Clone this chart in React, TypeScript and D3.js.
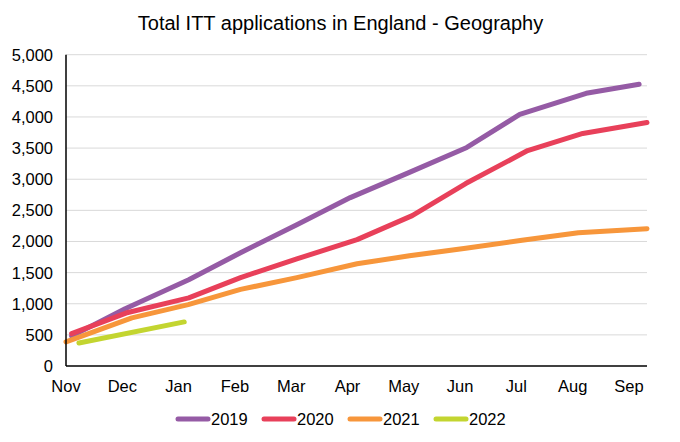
import React from "react";
import * as d3 from "d3";

const months = ["Nov", "Dec", "Jan", "Feb", "Mar", "Apr", "May", "Jun", "Jul", "Aug", "Sep"];
const yTicks = [0, 500, 1000, 1500, 2000, 2500, 3000, 3500, 4000, 4500, 5000];

// [month position (0 = Nov), applications]
const s2019: [number, number][] = [
  [0.1, 480], [1.05, 920], [2.18, 1385], [3.1, 1820], [4.1, 2270], [5.05, 2705],
  [6.1, 3110], [7.12, 3510], [8.06, 4040], [9.24, 4380], [10.18, 4525],
];
const s2020: [number, number][] = [
  [0.1, 520], [1.1, 860], [2.18, 1095], [3.1, 1420], [4.1, 1720], [5.17, 2030],
  [6.15, 2415], [7.1, 2930], [8.2, 3460], [9.18, 3735], [10.32, 3910],
];
const s2021: [number, number][] = [
  [0, 386], [1.17, 773], [2.17, 985], [3.1, 1230], [4.1, 1420], [5.17, 1642],
  [6.1, 1770], [7.1, 1890], [8.1, 2020], [9.1, 2140], [10.32, 2205],
];
const s2022: [number, number][] = [
  [0.23, 370], [2.1, 708],
];

const series = [
  { name: "2019", color: "#955BA5", data: s2019 },
  { name: "2020", color: "#E8405A", data: s2020 },
  { name: "2021", color: "#F7963B", data: s2021 },
  { name: "2022", color: "#C3D530", data: s2022 },
];

export default function App() {
  const W = 680, H = 442;
  const left = 66, right = 647, top = 54.7, bottom = 366;
  const x = d3.scaleLinear().domain([0, 10.32]).range([left, right]);
  const y = d3.scaleLinear().domain([0, 5000]).range([bottom, top]);
  const line = d3.line<[number, number]>().x(d => x(d[0])).y(d => y(d[1]));
  const fmt = d3.format(",");
  const font = "'Liberation Sans', Arial, sans-serif";
  const legendX = [176, 262, 348, 434];

  return (
    <svg width={W} height={H} style={{ position: "absolute", left: 0, top: 0 }} fontFamily={font}>
      <rect width={W} height={H} fill="#fff" />
      <text x={340.5} y={29.5} textAnchor="middle" fontSize={20} fill="#000">
        Total ITT applications in England - Geography
      </text>
      {yTicks.map(t => (
        <g key={t}>
          {t > 0 && <line x1={left} x2={right} y1={y(t)} y2={y(t)} stroke="#d9d9d9" strokeWidth={1} />}
          <text x={53} y={y(t) + 6} textAnchor="end" fontSize={16.5} fill="#000">{fmt(t)}</text>
        </g>
      ))}
      {months.map((m, i) => (
        <text key={m} x={x(i)} y={392} textAnchor="middle" fontSize={16.5} fill="#000">{m}</text>
      ))}
      {series.map(s => (
        <path key={s.name} d={line(s.data) || ""} fill="none" stroke={s.color} strokeWidth={5} strokeLinecap="round" strokeLinejoin="round" />
      ))}
      <line x1={left} x2={left} y1={top} y2={bottom} stroke="#000" strokeWidth={1.5} />
      <line x1={left} x2={right} y1={bottom} y2={bottom} stroke="#000" strokeWidth={1.5} />
      {series.map((s, i) => (
        <g key={s.name}>
          <line x1={legendX[i] + 2} x2={legendX[i] + 32} y1={419} y2={419} stroke={s.color} strokeWidth={5} strokeLinecap="round" />
          <text x={legendX[i] + 35} y={425} fontSize={16.5} fill="#000">{s.name}</text>
        </g>
      ))}
    </svg>
  );
}
